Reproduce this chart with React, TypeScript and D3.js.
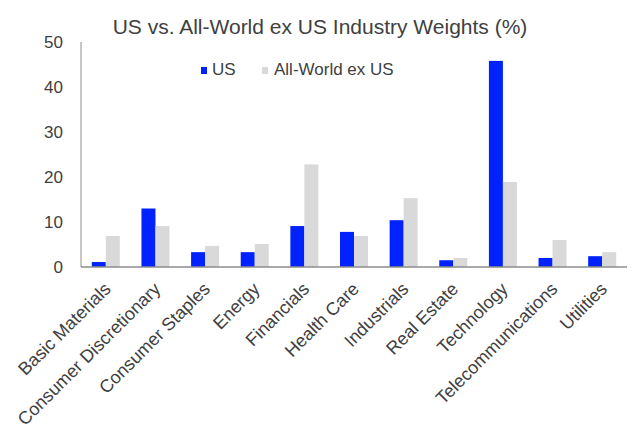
import React from "react";
import * as d3 from "d3";

const categories = [
  "Basic Materials",
  "Consumer Discretionary",
  "Consumer Staples",
  "Energy",
  "Financials",
  "Health Care",
  "Industrials",
  "Real Estate",
  "Technology",
  "Telecommunications",
  "Utilities",
];
const usValues = [1.1, 13.0, 3.3, 3.3, 9.1, 7.8, 10.4, 1.5, 45.8, 2.0, 2.4];
const worldValues = [6.9, 9.1, 4.7, 5.1, 22.8, 6.9, 15.3, 2.0, 18.9, 6.0, 3.3];
const yTicks = [0, 10, 20, 30, 40, 50];
const seriesNames = ["US", "All-World ex US"];
const title = "US vs. All-World ex US Industry Weights (%)";

const W = 634;
const H = 428;
const left = 81;
const right = 627;
const top = 42;
const bottom = 267;
const BLUE = "#0022ff";
const GRAY = "#d9d9d9";
const TEXT = "#404040";
const AXIS = "#8c8c8c";
const FONT = "'Liberation Sans', Arial, sans-serif";

export default function App() {
  const x = d3.scaleBand<string>().domain(categories).range([left, right]).padding(0);
  const y = d3.scaleLinear().domain([0, 50]).range([bottom, top]);
  const bw = 14;

  return (
    <div style={{ position: "absolute", left: 0, top: 0 }}>
      <svg width={W} height={H} style={{ display: "block", background: "#fff" }}>
        <text x={320} y={34} textAnchor="middle" fontFamily={FONT} fontSize={21} fill={TEXT}>
          {title}
        </text>
        {yTicks.map((t) => (
          <text key={t} x={63} y={y(t) + 6} textAnchor="end" fontFamily={FONT} fontSize={17} fill={TEXT}>
            {t}
          </text>
        ))}
        {categories.map((c, i) => {
          const cx = (x(c) as number) + x.bandwidth() / 2;
          return (
            <g key={c}>
              <rect x={cx - bw} y={y(usValues[i])} width={bw} height={bottom - y(usValues[i])} fill={BLUE} />
              <rect x={cx} y={y(worldValues[i])} width={bw} height={bottom - y(worldValues[i])} fill={GRAY} />
              <text
                transform={`translate(${cx - 3},${bottom + 14}) rotate(-45)`}
                textAnchor="end"
                dominantBaseline="hanging"
                fontFamily={FONT}
                fontSize={18}
                fill={TEXT}
              >
                {c}
              </text>
            </g>
          );
        })}
        <line x1={left} x2={left} y1={top} y2={bottom} stroke={AXIS} strokeWidth={1} />
        <line x1={left} x2={right} y1={bottom} y2={bottom} stroke={AXIS} strokeWidth={1.5} />
        {/* legend */}
        <rect x={201} y={67} width={6} height={7} fill={BLUE} />
        <text x={212} y={75} fontFamily={FONT} fontSize={17} fill={TEXT}>
          {seriesNames[0]}
        </text>
        <rect x={262} y={67} width={6} height={7} fill={GRAY} />
        <text x={274} y={75} fontFamily={FONT} fontSize={17} fill={TEXT}>
          {seriesNames[1]}
        </text>
      </svg>
    </div>
  );
}
